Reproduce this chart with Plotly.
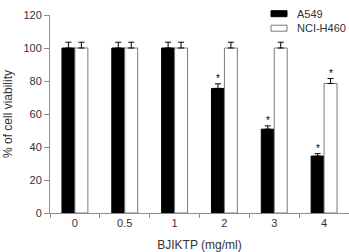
import plotly.graph_objects as go

categories = ["0", "0.5", "1", "2", "3", "4"]
a549 = [100, 100, 100, 75.5, 50.8, 34.5]
a549_err = [3.5, 3.5, 3.5, 2.8, 2.0, 1.5]
h460 = [100, 100, 100, 100, 100, 78.5]
h460_err = [3.5, 3.5, 3.5, 3.5, 3.5, 3.0]
a549_sig = [False, False, False, True, True, True]
h460_sig = [False, False, False, False, False, True]

FONT = "Arial, Liberation Sans, sans-serif"
TXT = "#333333"
AX = "#8c8c8c"
bargap = 0.48
half = (1 - bargap) / 4  # offset of each bar centre from category centre

fig = go.Figure()
fig.add_trace(go.Bar(
    x=categories, y=a549, name="A549",
    marker=dict(color="black", line=dict(color="black", width=1)),
    error_y=dict(type="data", array=a549_err, arrayminus=[0]*6, symmetric=False,
                 color="black", thickness=1, width=3),
    showlegend=False,
))
fig.add_trace(go.Bar(
    x=categories, y=h460, name="NCI-H460",
    marker=dict(color="white", line=dict(color="#7a7a7a", width=1)),
    error_y=dict(type="data", array=h460_err, arrayminus=[0]*6, symmetric=False,
                 color="black", thickness=1, width=3),
    showlegend=False,
))

annotations = []
for i, c in enumerate(categories):
    if a549_sig[i]:
        annotations.append(dict(x=i - half, y=a549[i] + a549_err[i], xref="x", yref="y",
                                text="*", showarrow=False, yanchor="bottom", yshift=-2,
                                font=dict(size=10, color="black", family=FONT)))
    if h460_sig[i]:
        annotations.append(dict(x=i + half, y=h460[i] + h460_err[i], xref="x", yref="y",
                                text="*", showarrow=False, yanchor="bottom", yshift=-2,
                                font=dict(size=10, color="black", family=FONT)))

# legend drawn as boxes + labels
legend_items = [("A549", "black", "black"), ("NCI-H460", "white", "#7a7a7a")]
shapes = []
for k, (name, fill, line) in enumerate(legend_items):
    y0 = 11 + k * 14.5
    shapes.append(dict(type="rect", xref="paper", yref="paper",
                       x0=(271 - 50) / 299, x1=(287 - 50) / 299,
                       y0=(213.3 - y0 - 6) / 198, y1=(213.3 - y0) / 198,
                       fillcolor=fill, line=dict(color=line, width=1)))
    annotations.append(dict(x=(295 - 50) / 299, y=(213.3 - y0 - 3) / 198, xref="paper", yref="paper",
                            text=name, showarrow=False, xanchor="left", yanchor="middle",
                            font=dict(size=11, color=TXT, family=FONT)))

fig.update_layout(
    width=349, height=252,
    margin=dict(l=50, r=0, t=15, b=39),
    plot_bgcolor="white", paper_bgcolor="white",
    barmode="group", bargap=bargap, bargroupgap=0,
    font=dict(family=FONT, size=11, color=TXT),
    annotations=annotations, shapes=shapes,
    xaxis=dict(
        type="category", range=[-0.5, 5.5], showline=True, linecolor=AX, linewidth=1,
        ticks="outside", tickson="boundaries", ticklen=4, tickcolor=AX,
        showgrid=False, zeroline=False,
        title=dict(text="BJIKTP (mg/ml)", font=dict(size=12, color=TXT), standoff=14),
        tickfont=dict(size=11, color=TXT), automargin=False,
    ),
    yaxis=dict(
        range=[0, 120], dtick=20, showline=True, linecolor=AX, linewidth=1,
        ticks="outside", ticklen=5, tickcolor=AX, showgrid=False, zeroline=False,
        title=dict(text="% of cell viability", font=dict(size=12, color=TXT), standoff=8),
        tickfont=dict(size=11, color=TXT), automargin=False,
    ),
)

fig.write_html("out.html")
